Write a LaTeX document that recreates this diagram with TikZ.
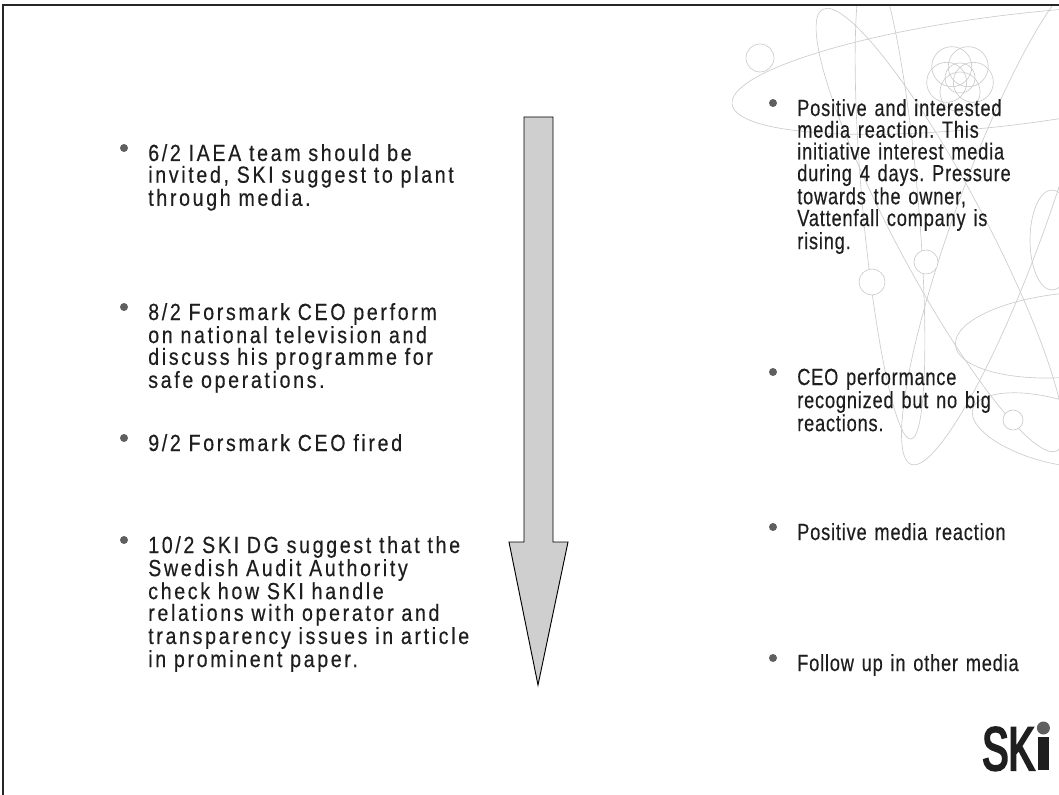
\documentclass[tikz,border=0pt]{standalone}
\usepackage{fontspec}
\setmainfont{Liberation Sans}[FakeStretch=0.84, LetterSpace=11.4, FakeBold=0.4]
\newfontfamily\rightfont{Liberation Sans}[FakeStretch=0.78, LetterSpace=3.5, FakeBold=0.4]
\newfontfamily\logofont{Liberation Sans}[FakeBold=3.5, FakeStretch=0.64]
\usetikzlibrary{calc}
\frenchspacing
\definecolor{textgray}{HTML}{1E1E1E}
\definecolor{bulletgray}{HTML}{5F5F5F}
\definecolor{orbitgray}{HTML}{CCCCCC}
\definecolor{arrowfill}{HTML}{CFCFCF}

\begin{document}
\begin{tikzpicture}[x=0.75pt, y=-0.75pt,
		item/.style={anchor=base west, inner sep=0pt, text width=300pt, align=left,
			text=textgray, font=\fontsize{17.5}{16.3}\selectfont},
		reaction/.style={item, text width=220pt, font=\rightfont\fontsize{17.5}{16.3}\selectfont},
		bulletdot/.style={circle, fill=bulletgray, inner sep=0pt, minimum size=6pt},
		orbit/.style={draw=orbitgray, line width=0.5pt},
		electron/.style={orbit, fill=white}]
		\useasboundingbox (0,0) rectangle (1059,795);
		% atom in the corner
		\begin{scope}
			\clip (3,5) rectangle (1059,795);
			\draw[orbit, rotate around={7:(1010,70)}] (1010,70) ellipse [x radius=280, y radius=55];
			\draw[orbit, rotate around={-62:(940,230)}] (940,230) ellipse [x radius=250, y radius=45];
			\draw[orbit, rotate around={70:(1000,220)}] (1000,220) ellipse [x radius=260, y radius=45];
			\draw[orbit, rotate around={95:(890,200)}] (890,200) ellipse [x radius=240, y radius=28];
			\draw[orbit, rotate around={5:(1070,335)}] (1070,335) ellipse [x radius=115, y radius=42];
			\draw[orbit, rotate around={-15:(1050,430)}] (1050,430) ellipse [x radius=80, y radius=32];
			\draw[orbit] (1052,240) ellipse [x radius=22, y radius=50];
			% electrons
			\foreach \ex/\ey/\er in {760/58/14, 872/282/13, 926/262/12, 1013/420/10}
				\draw[electron] (\ex,\ey) circle (\er);
			% nucleus
			\foreach \a in {90,162,234,306,18}
				\draw[orbit] ($(960,78)+(\a:14)$) circle (20);
			\draw[orbit] (960,78) circle (15);
		\end{scope}
		% frame
		\draw[line width=0.8pt, black!85] (1059,5) -- (3,5) -- (3,795);
		% time arrow
		\filldraw[fill=arrowfill, draw=black, line width=0.7pt]
			(524,117) -- (553,117) -- (553,542) -- (568,542) -- (538,685)
			-- (509,542) -- (524,542) -- cycle;
		% actions
		\node[item] (l1) at (148,161) {6/2 IAEA team should be\\invited, SKI suggest to plant\\through media.};
		\node[item] (l2) at (148,320) {8/2 Forsmark CEO perform\\on national television and\\discuss his programme for\\safe operations.};
		\node[item] (l3) at (148,451) {9/2 Forsmark CEO fired};
		\node[item] (l4) at (148,553) {10/2 SKI DG suggest that the\\Swedish Audit Authority\\check how SKI handle\\relations with operator and\\transparency issues in article\\in prominent paper.};
		% reactions
		\node[reaction] (r1) at (797,116) {Positive and interested\\media reaction. This\\initiative interest media\\during 4 days. Pressure\\towards the owner,\\Vattenfall company is\\rising.};
		\node[reaction] (r2) at (797,385) {CEO performance\\recognized but no big\\reactions.};
		\node[reaction] (r3) at (797,540) {Positive media reaction};
		\node[reaction] (r4) at (797,671) {Follow up in other media};
		\foreach \n in {l1,l2,l3,l4,r1,r2,r3,r4}
			\node[bulletdot] at ($(\n.base west)+(-24,-13)$) {};
		% logo
		\node[anchor=base west, inner sep=0pt, text=black!88,
			font=\logofont\fontsize{46}{46}\selectfont] (logo) at (982,770) {SK};
		\fill[black!88] ($(logo.base east)+(3,0)$) rectangle ($(logo.base east)+(14,-33)$);
		\fill[bulletgray] ($(logo.base east)+(8.5,-42)$) circle (6.5);
	\end{tikzpicture}
\end{document}
